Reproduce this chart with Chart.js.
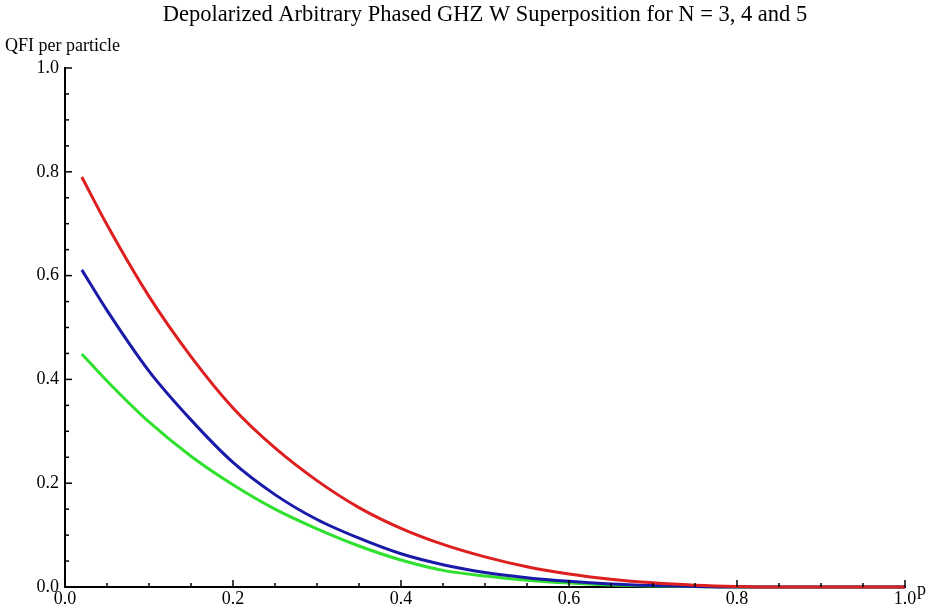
<!DOCTYPE html>
<html lang="en">
<head>
  <meta charset="UTF-8">
  <title>Depolarized Arbitrary Phased GHZ W Superposition</title>
  <script src="https://cdn.jsdelivr.net/npm/chart.js"></script>
  <style>
    body { margin: 0; background: #fff; }
    canvas { display: block; }
  </style>
</head>
<body>
  <canvas id="qfi" width="936" height="609"></canvas>

  <script>
    // depolarizing parameter p
    const pValues = [0.02, 0.05, 0.1, 0.15, 0.2, 0.25, 0.3, 0.35, 0.4, 0.45, 0.5,
                     0.55, 0.6, 0.65, 0.7, 0.75, 0.8, 0.85, 0.9, 0.95, 1.0];
    // QFI per particle
    const qfiRed   = [0.79, 0.698, 0.56, 0.444, 0.345, 0.268, 0.205, 0.153, 0.113, 0.082, 0.058,
                      0.039, 0.025, 0.015, 0.008, 0.0035, 0.001, 0, 0, 0, 0];
    const qfiBlue  = [0.611, 0.533, 0.416, 0.322, 0.24, 0.178, 0.13, 0.094, 0.064, 0.043, 0.028,
                      0.018, 0.011, 0.006, 0.003, 0.001, 0, 0, 0, 0, 0];
    const qfiGreen = [0.449, 0.397, 0.318, 0.252, 0.197, 0.15, 0.112, 0.079, 0.052, 0.032, 0.021,
                      0.013, 0.0075, 0.004, 0.002, 0.001, 0, 0, 0, 0, 0];
    const xMajorTicks = [0, 0.2, 0.4, 0.6, 0.8, 1.0];
    const yMajorTicks = [0, 0.2, 0.4, 0.6, 0.8, 1.0];

    const toPoints = ys => pValues.map((p, i) => ({ x: p, y: ys[i] }));
    const serif = '"Liberation Serif", "DejaVu Serif", serif';

    // inward ticks + free text (title, axis names)
    const frame = {
      id: 'frame',
      afterDraw(chart) {
        const c = chart.ctx;
        const xs = chart.scales.x, ys = chart.scales.y;
        const left = xs.left, bottom = ys.bottom;
        c.save();
        c.strokeStyle = '#000';
        c.lineWidth = 1.5;
        for (let i = 0; i < xMajorTicks.length; i++) {
          for (let k = 0; k < 4; k++) {
            if (i === xMajorTicks.length - 1 && k > 0) break;
            const v = xMajorTicks[i] + k * 0.05;
            const px = xs.getPixelForValue(v);
            const len = k === 0 ? 7 : 4;
            if (v > 0) { c.beginPath(); c.moveTo(px, bottom); c.lineTo(px, bottom - len); c.stroke(); }
          }
        }
        for (let i = 0; i < yMajorTicks.length; i++) {
          for (let k = 0; k < 4; k++) {
            if (i === yMajorTicks.length - 1 && k > 0) break;
            const v = yMajorTicks[i] + k * 0.05;
            const py = ys.getPixelForValue(v);
            const len = k === 0 ? 7 : 4;
            if (v > 0) { c.beginPath(); c.moveTo(left, py); c.lineTo(left + len, py); c.stroke(); }
          }
        }
        c.fillStyle = '#000';
        c.font = '22.5px ' + serif;
        c.textAlign = 'center';
        c.textBaseline = 'middle';
        c.fillText('Depolarized Arbitrary Phased GHZ W Superposition for N = 3, 4 and 5', 485, 15);
        c.font = '18px ' + serif;
        c.textAlign = 'left';
        c.fillText('QFI per particle', 5, 46);
        c.textBaseline = 'alphabetic';
        c.fillText('p', 917, 595);
        c.restore();
      }
    };

    new Chart(document.getElementById('qfi'), {
      type: 'scatter',
      data: {
        datasets: [
          { data: toPoints(qfiRed),   borderColor: '#dd1f1f' },
          { data: toPoints(qfiBlue),  borderColor: '#1a1aa8' },
          { data: toPoints(qfiGreen), borderColor: '#2fe02f' }
        ].map(d => Object.assign(d, {
          showLine: true, pointRadius: 0, borderWidth: 3,
          cubicInterpolationMode: 'monotone', clip: 4
        }))
      },
      options: {
        responsive: false,
        animation: false,
        layout: { padding: { top: 68, right: 31, left: 0, bottom: 0 } },
        plugins: { legend: { display: false }, tooltip: { enabled: false } },
        scales: {
          x: {
            type: 'linear', min: 0, max: 1,
            afterFit: s => { s.height = 22; },
            grid: { drawOnChartArea: false, drawTicks: false },
            border: { color: '#000', width: 2 },
            ticks: { stepSize: 0.2, padding: 1, color: '#000',
                     font: { family: serif, size: 18 },
                     callback: v => v.toFixed(1) }
          },
          y: {
            min: 0, max: 1,
            afterFit: s => { s.width = 65; },
            grid: { drawOnChartArea: false, drawTicks: false },
            border: { color: '#000', width: 2 },
            ticks: { stepSize: 0.2, padding: 6, color: '#000',
                     font: { family: serif, size: 18 },
                     callback: v => v.toFixed(1) }
          }
        }
      },
      plugins: [frame]
    });
  </script>
</body>
</html>
